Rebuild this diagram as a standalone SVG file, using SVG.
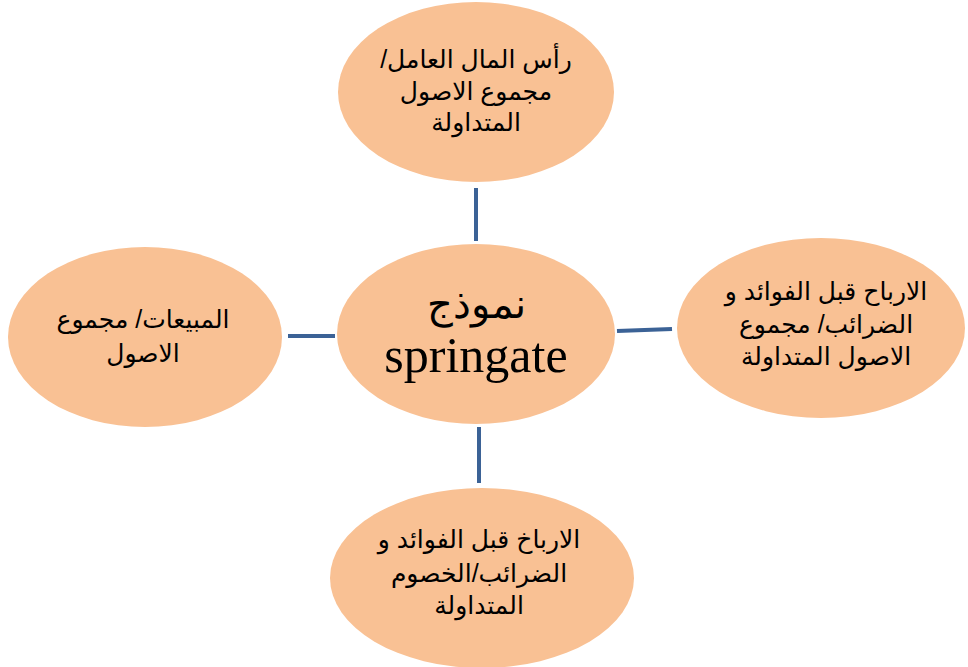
<svg xmlns="http://www.w3.org/2000/svg" width="968" height="667" viewBox="0 0 968 667">
  <style>
    .node { fill: #F9C194; stroke: none; }
    .link { stroke: #3B6296; stroke-width: 4; fill: none; }
    .ar { font-family: "Liberation Sans", "DejaVu Sans", "Noto Sans", sans-serif; font-size: 25px; fill: #000; text-anchor: middle; direction: rtl; }
    .hub { font-family: "Liberation Serif", "DejaVu Serif", serif; fill: #000; text-anchor: middle; }
  </style>
  <rect width="968" height="667" fill="#FFFFFF"/>

  <!-- spokes from the hub to each ratio -->
  <g id="connectors">
    <line class="link" x1="476" y1="188" x2="476" y2="241"/>
    <line class="link" x1="288" y1="336" x2="335" y2="336"/>
    <line class="link" x1="617" y1="331" x2="672" y2="329"/>
    <line class="link" x1="479" y1="427" x2="479" y2="483"/>
  </g>

  <g id="hub">
    <ellipse class="node" cx="476" cy="334" rx="139" ry="90"/>
    <text class="hub" x="476" y="318" font-size="40" direction="rtl">نموذج</text>
    <text class="hub" x="476" y="372" font-size="50">springate</text>
  </g>

  <g id="node-top">
    <ellipse class="node" cx="476" cy="92" rx="138" ry="90"/>
    <text class="ar" x="476" y="68">رأس المال العامل/</text>
    <text class="ar" x="476" y="100">مجموع الاصول</text>
    <text class="ar" x="476" y="131">المتداولة</text>
  </g>

  <g id="node-right">
    <ellipse class="node" cx="821" cy="328" rx="144" ry="90"/>
    <text class="ar" x="826" y="300">الارباح قبل الفوائد و</text>
    <text class="ar" x="826" y="333">الضرائب/ مجموع</text>
    <text class="ar" x="826" y="365">الاصول المتداولة</text>
  </g>

  <g id="node-left">
    <ellipse class="node" cx="145" cy="337" rx="137" ry="90"/>
    <text class="ar" x="143" y="328">المبيعات/ مجموع</text>
    <text class="ar" x="143" y="362">الاصول</text>
  </g>

  <g id="node-bottom">
    <ellipse class="node" cx="482" cy="578" rx="152" ry="90"/>
    <text class="ar" x="479" y="548">الارباخ قبل الفوائد و</text>
    <text class="ar" x="479" y="582">الضرائب/الخصوم</text>
    <text class="ar" x="479" y="614">المتداولة</text>
  </g>
</svg>
